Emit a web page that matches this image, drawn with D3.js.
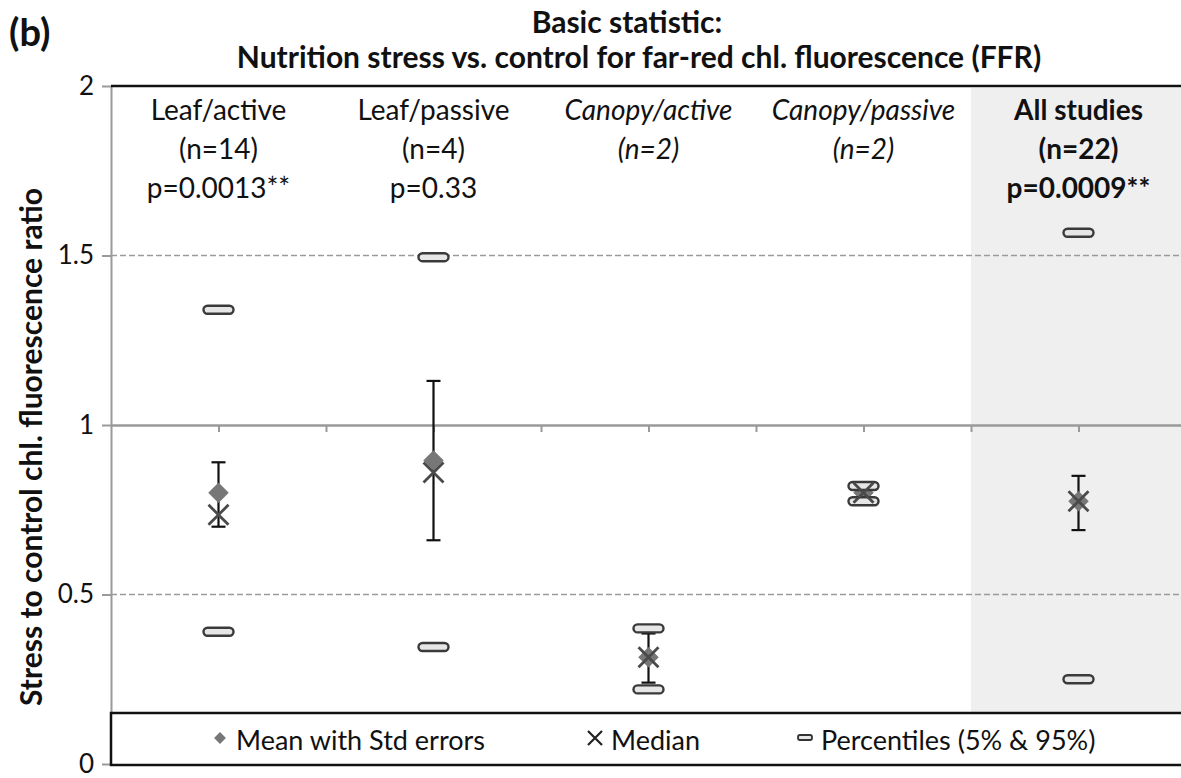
<!DOCTYPE html>
<html>
<head>
<meta charset="utf-8">
<script src="https://cdn.jsdelivr.net/npm/d3@7"></script>
<style>
  html, body { margin: 0; padding: 0; background: #fff; }
  svg { display: block; font-family: Lato, "Open Sans", sans-serif; }
</style>
</head>
<body>
<div id="chart"></div>
<script>
// --- data ---
const categories = ["Leaf/active", "Leaf/passive", "Canopy/active", "Canopy/passive", "All studies"];
const nLabels = ["(n=14)", "(n=4)", "(n=2)", "(n=2)", "(n=22)"];
const pLabels = ["p=0.0013**", "p=0.33", "", "", "p=0.0009**"];
const labelStyle = ["normal", "normal", "italic", "italic", "bold"];
const xPositions = [1, 3, 5, 7, 9];
const meanValues = [0.80, 0.895, 0.315, 0.80, 0.775];
const seUpper = [0.89, 1.13, 0.385, 0.81, 0.85];
const seLower = [0.70, 0.66, 0.24, 0.79, 0.69];
const medianValues = [0.735, 0.86, 0.315, 0.80, 0.775];
const pct5 = [0.39, 0.345, 0.22, 0.775, 0.25];
const pct95 = [1.34, 1.495, 0.40, 0.82, 1.567];
const yTicks = [0, 0.5, 1, 1.5, 2];
const dashedLevels = [0.5, 1.5, 2];
const xTicks = d3.range(1, 11);
const legendItems = ["Mean with Std errors", "Median", "Percentiles (5% & 95%)"];

const W = 1181, H = 778;
const svg = d3.select("#chart").append("svg").attr("width", W).attr("height", H);

const x = d3.scaleLinear().domain([0, 10]).range([111, 1186]);
const y = d3.scaleLinear().domain([0, 2]).range([764, 86]);

const rows = categories.map((c, i) => ({
  name: c, n: nLabels[i], p: pLabels[i], style: labelStyle[i], x: xPositions[i],
  mean: meanValues[i], hi: seUpper[i], lo: seLower[i], median: medianValues[i],
  p5: pct5[i], p95: pct95[i]
}));

const legendTop = 713;

// shaded "All studies" panel
svg.append("rect")
  .attr("x", x(8)).attr("y", y(2) + 2)
  .attr("width", W - x(8)).attr("height", legendTop - y(2) - 2)
  .attr("fill", "#efefef");

// dashed gridlines
svg.append("g").selectAll("line")
  .data(dashedLevels)
  .join("line")
    .attr("x1", x(0)).attr("x2", W)
    .attr("y1", d => y(d)).attr("y2", d => y(d))
    .attr("stroke", "#9a9a9a").attr("stroke-width", 1.5)
    .attr("stroke-dasharray", "6,3");

// horizontal axis crossing at 1
svg.append("g")
  .attr("transform", `translate(0,${y(1)})`)
  .call(d3.axisBottom(x).tickValues(xTicks).tickSize(7).tickSizeOuter(0).tickFormat(""))
  .call(ax => ax.select(".domain").attr("stroke", "#9a9a9a").attr("stroke-width", 2.5))
  .call(ax => ax.selectAll(".tick line").attr("stroke", "#9a9a9a").attr("stroke-width", 2));

// y axis
svg.append("g")
  .attr("transform", `translate(${x(0)},0)`)
  .call(d3.axisLeft(y).tickValues(yTicks).tickSize(9).tickSizeOuter(0).tickPadding(8).tickFormat(d => String(d)))
  .call(ax => ax.select(".domain").attr("stroke", "#9a9a9a").attr("stroke-width", 2))
  .call(ax => ax.selectAll(".tick line").attr("stroke", "#9a9a9a").attr("stroke-width", 2))
  .call(ax => ax.selectAll("text")
    .attr("font-size", 26).attr("fill", "#111").attr("font-family", "Lato, sans-serif"));

// top frame line
svg.append("line")
  .attr("x1", x(0)).attr("x2", W)
  .attr("y1", y(2)).attr("y2", y(2))
  .attr("stroke", "#111").attr("stroke-width", 2.5);

// std error bars
const eb = svg.append("g").attr("stroke", "#111").attr("stroke-width", 2.2);
eb.selectAll("line.v").data(rows).join("line").attr("class", "v")
  .attr("x1", d => x(d.x)).attr("x2", d => x(d.x))
  .attr("y1", d => y(d.hi)).attr("y2", d => y(d.lo));
eb.selectAll("line.t").data(rows).join("line").attr("class", "t")
  .attr("x1", d => x(d.x) - 7).attr("x2", d => x(d.x) + 7)
  .attr("y1", d => y(d.hi)).attr("y2", d => y(d.hi));
eb.selectAll("line.b").data(rows).join("line").attr("class", "b")
  .attr("x1", d => x(d.x) - 7).attr("x2", d => x(d.x) + 7)
  .attr("y1", d => y(d.lo)).attr("y2", d => y(d.lo));

// mean diamonds
svg.append("g").selectAll("path")
  .data(rows)
  .join("path")
    .attr("d", d3.symbol().type(d3.symbolSquare).size(210)())
    .attr("transform", d => `translate(${x(d.x)},${y(d.mean)}) rotate(45)`)
    .attr("fill", "#777");

// percentile markers
const pctData = rows.flatMap(d => [{x: d.x, v: d.p5}, {x: d.x, v: d.p95}]);
svg.append("g").selectAll("rect")
  .data(pctData)
  .join("rect")
    .attr("x", d => x(d.x) - 15).attr("y", d => y(d.v) - 4)
    .attr("width", 30).attr("height", 8).attr("rx", 4)
    .attr("fill", "#e6e6e6").attr("stroke", "#3a3a3a").attr("stroke-width", 2.4);

// median crosses
svg.append("g").selectAll("path")
  .data(rows)
  .join("path")
    .attr("transform", d => `translate(${x(d.x)},${y(d.median)})`)
    .attr("d", "M-10,-10L10,10M-10,10L10,-10")
    .attr("stroke", "#4a4a4a").attr("stroke-width", 2.8).attr("fill", "none");

// category labels
const lab = svg.append("g").attr("text-anchor", "middle").attr("fill", "#111");
rows.forEach(d => {
  [d.name, d.n, d.p].forEach((t, j) => {
    if (!t) return;
    lab.append("text")
      .attr("x", x(d.x)).attr("y", 120 + j * 39)
      .attr("font-size", 28)
      .attr("font-style", d.style === "italic" ? "italic" : "normal")
      .attr("font-weight", d.style === "bold" ? "bold" : "normal")
      .text(t);
  });
});

// titles
svg.append("text").attr("x", 9).attr("y", 46)
  .attr("font-size", 38).attr("font-weight", "bold").attr("fill", "#111").text("(b)");
svg.append("text").attr("x", 627).attr("y", 33).attr("text-anchor", "middle")
  .attr("font-size", 30).attr("font-weight", "bold").attr("fill", "#111").text("Basic statistic:");
svg.append("text").attr("x", 639).attr("y", 68).attr("text-anchor", "middle")
  .attr("font-size", 30).attr("font-weight", "bold").attr("fill", "#111")
  .text("Nutrition stress vs. control for far-red chl. fluorescence (FFR)");
svg.append("text")
  .attr("transform", "translate(42,447) rotate(-90)")
  .attr("text-anchor", "middle")
  .attr("font-size", 30).attr("font-weight", "bold").attr("fill", "#111")
  .text("Stress to control chl. fluorescence ratio");

// legend
svg.append("rect")
  .attr("x", x(0)).attr("y", legendTop)
  .attr("width", W + 10 - x(0)).attr("height", 52)
  .attr("fill", "#fff").attr("stroke", "#111").attr("stroke-width", 2.5);

const lg = svg.append("g").attr("font-size", 27).attr("fill", "#111");
const legendSymX = [220, 595, 805];
const legendY = 740;
lg.append("path")
  .attr("d", d3.symbol().type(d3.symbolSquare).size(70)())
  .attr("transform", `translate(${legendSymX[0]},${legendY - 2}) rotate(45)`)
  .attr("fill", "#777");
lg.append("path")
  .attr("d", "M-7,-7L7,7M-7,7L7,-7")
  .attr("transform", `translate(${legendSymX[1]},${legendY - 2})`)
  .attr("stroke", "#222").attr("stroke-width", 2.2);
lg.append("rect")
  .attr("x", legendSymX[2] - 7).attr("y", legendY - 5)
  .attr("width", 14).attr("height", 5).attr("rx", 2)
  .attr("fill", "#e6e6e6").attr("stroke", "#333").attr("stroke-width", 1.8);
legendItems.forEach((t, i) => {
  lg.append("text").attr("x", legendSymX[i] + 16).attr("y", legendY + 10).text(t);
});
</script>
</body>
</html>
